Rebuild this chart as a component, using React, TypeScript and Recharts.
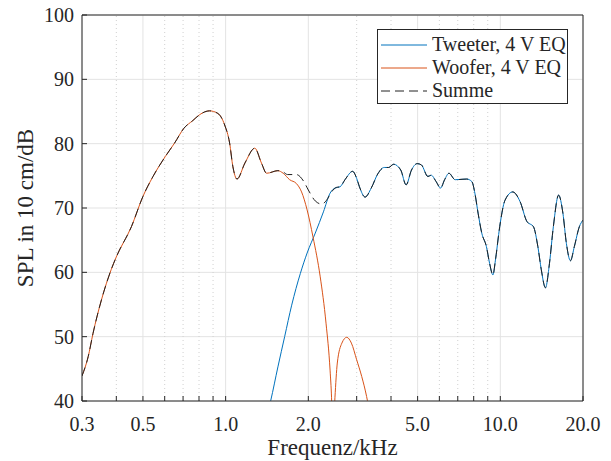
import React from "react";
import {
  CartesianGrid,
  Label,
  Legend,
  Line,
  LineChart,
  ReferenceLine,
  XAxis,
  YAxis,
} from "recharts";

// frequency in kHz, SPL in dB
const wooferFreq = [
  0.3, 0.316, 0.329, 0.353, 0.383, 0.4, 0.454, 0.5, 0.544, 0.603, 0.652, 0.705,
  0.76, 0.804, 0.874, 0.937, 0.992, 1.034, 1.063, 1.1, 1.176, 1.277, 1.35, 1.41,
  1.55, 1.62, 1.71, 1.81, 1.89, 1.98, 2.08, 2.21, 2.32, 2.4, 2.43, 2.455, 2.5,
  2.55, 2.65, 2.76, 2.87, 3.0, 3.13, 3.26, 3.35,
];
const wooferSpl = [
  43.9, 46.9, 50.5, 55.7, 60.4, 62.4, 67.1, 71.8, 74.9, 78.0, 80.1, 82.4,
  83.6, 84.5, 85.1, 84.7, 82.9, 80.1, 76.4, 74.5, 77.0, 79.3, 77.0, 75.4,
  75.8, 75.4, 74.4, 73.8, 72.5, 69.7, 65.5, 59.3, 52.1, 44.8, 40.5, 34.0, 40.5,
  45.9, 49.0, 49.9, 49.0, 46.4, 43.8, 40.7, 38.0,
];

const tweeterFreq = [
  1.42, 1.46, 1.55, 1.64, 1.74, 1.87, 1.98, 2.12, 2.27, 2.4, 2.5, 2.61, 2.72,
  2.9, 3.0, 3.07, 3.22, 3.39, 3.58, 3.78, 3.92, 4.09, 4.34, 4.54, 4.75, 4.98,
  5.16, 5.45, 5.6, 5.84, 6.06, 6.27, 6.5, 6.85, 7.55, 7.88, 8.08, 8.3, 8.56,
  8.9, 9.14, 9.4, 9.6, 9.95, 10.4, 11.1, 11.8, 12.5, 13.2, 13.7, 14.1, 14.6,
  15.1, 15.6, 16.3, 16.9, 17.4, 18.0, 18.6, 19.4, 20.0,
];
const tweeterSpl = [
  38.0, 40.1, 45.3, 50.0, 54.9, 59.8, 63.0, 66.1, 69.4, 72.3, 73.1, 73.3, 74.4,
  75.7, 74.6, 73.3, 71.7, 73.1, 75.3, 76.3, 76.3, 76.8, 75.9, 73.6, 75.9, 76.9,
  76.7, 74.9, 75.1, 74.1, 73.1, 74.4, 75.4, 74.4, 74.5, 74.1, 72.3, 69.2, 66.1,
  64.0, 61.4, 59.6, 61.9, 67.1, 71.2, 72.5, 71.0, 67.9, 67.1, 64.0, 60.4, 57.6,
  61.4, 67.1, 72.0, 69.2, 64.5, 61.8, 64.0, 67.1, 68.1,
];

// Summe in the crossover region (elsewhere it follows woofer / tweeter)
const summeFreq = [1.62, 1.68, 1.81, 1.92, 2.0, 2.12, 2.24, 2.33, 2.43, 2.53];
const summeSpl = [75.6, 75.2, 75.2, 74.2, 72.8, 71.1, 70.6, 71.2, 72.5, 73.2];

const majorFreqTicks = [0.3, 0.5, 1, 2, 5, 10, 20];
const minorFreqTicks = [0.4, 0.6, 0.7, 0.8, 0.9, 3, 4, 6, 7, 8, 9];
const splTicks = [40, 50, 60, 70, 80, 90, 100];

const allFreqTicks = [...majorFreqTicks, ...minorFreqTicks].sort((a, b) => a - b);

const toPoints = (fs: number[], ys: number[]) => fs.map((f, i) => ({ f, spl: ys[i] }));

const wooferData = toPoints(wooferFreq, wooferSpl);
const tweeterData = toPoints(tweeterFreq, tweeterSpl);
const summeData = [
  ...wooferData.filter((p) => p.f < 1.6),
  ...toPoints(summeFreq, summeSpl),
  ...tweeterData.filter((p) => p.f > 2.56),
];

const font = "Liberation Serif";
const ink = "#262626";
const BLUE = "#0072BD";
const ORANGE = "#D95319";
const DASH = "9 5";

const legendItems = [
  { name: "Tweeter, 4 V EQ", color: BLUE, dash: undefined },
  { name: "Woofer, 4 V EQ", color: ORANGE, dash: undefined },
  { name: "Summe", color: "#222", dash: DASH },
];

const renderLegend = () => (
  <div
    style={{
      width: 191,
      height: 75,
      boxSizing: "border-box",
      border: `1px solid ${ink}`,
      background: "#fff",
      paddingTop: 3,
      fontFamily: font,
      fontSize: 20,
      color: ink,
    }}
  >
    {legendItems.map((it) => (
      <div key={it.name} style={{ display: "flex", alignItems: "center", height: 23 }}>
        <svg width={50} height={10} style={{ display: "block" }}>
          <line x1={3} x2={49} y1={5} y2={5} stroke={it.color} strokeWidth={1} strokeDasharray={it.dash} />
        </svg>
        <span style={{ marginLeft: 4, lineHeight: "23px" }}>{it.name}</span>
      </div>
    ))}
  </div>
);

export default function App() {
  return (
    <div style={{ position: "absolute", left: 0, top: 0, background: "#fff", fontFamily: font }}>
      <LineChart width={611} height={461} margin={{ top: 14, right: 27, bottom: 0, left: 0 }}>
        <CartesianGrid vertical={false} stroke="#e3e3e3" xAxisId={0} yAxisId={0} />
        {majorFreqTicks.map((f) => (
          <ReferenceLine key={"M" + f} x={f} stroke="#e3e3e3" />
        ))}
        {minorFreqTicks.map((f) => (
          <ReferenceLine key={"m" + f} x={f} stroke="#d0d0d0" strokeDasharray="1 3" />
        ))}
        <XAxis
          xAxisId={0}
          dataKey="f"
          type="number"
          scale="log"
          domain={[0.3, 20]}
          allowDataOverflow
          ticks={allFreqTicks}
          interval={0}
          tickFormatter={(v: number) => (majorFreqTicks.includes(v) ? v.toFixed(1) : "")}
          height={60}
          stroke={ink}
          tickSize={-5}
          tickMargin={21}
          tick={{ fill: ink, fontSize: 20, fontFamily: font }}
        >
          <Label
            content={() => (
              <text x={332.5} y={455} textAnchor="middle" fontSize={23} fontFamily={font} fill={ink}>
                Frequenz/kHz
              </text>
            )}
          />
        </XAxis>
        <XAxis
          xAxisId="top"
          orientation="top"
          dataKey="f"
          type="number"
          scale="log"
          domain={[0.3, 20]}
          allowDataOverflow
          ticks={allFreqTicks}
          interval={0}
          height={1}
          stroke={ink}
          tickSize={-5}
          tick={false}
        />
        <YAxis
          yAxisId={0}
          type="number"
          domain={[40, 100]}
          allowDataOverflow
          ticks={splTicks}
          interval={0}
          width={82}
          stroke={ink}
          tickSize={-5}
          tickMargin={13}
          tick={{ fill: ink, fontSize: 20, fontFamily: font }}
        >
          <Label
            content={() => (
              <text
                x={25}
                y={208}
                transform="rotate(-90 25 208)"
                textAnchor="middle"
                dominantBaseline="central"
                fontSize={23}
                fontFamily={font}
                fill={ink}
              >
                SPL in 10 cm/dB
              </text>
            )}
          />
        </YAxis>
        <YAxis
          yAxisId="right"
          orientation="right"
          type="number"
          domain={[40, 100]}
          allowDataOverflow
          ticks={splTicks}
          interval={0}
          width={1}
          stroke={ink}
          tickSize={-5}
          tick={false}
        />
        <Legend
          layout="horizontal"
          verticalAlign="middle"
          align="center"
          content={renderLegend}
          wrapperStyle={{ left: 377, top: 29, width: 191 }}
        />
        <Line
          data={tweeterData}
          dataKey="spl"
          name="Tweeter, 4 V EQ"
          type="monotone"
          stroke={BLUE}
          strokeWidth={1}
          dot={false}
          isAnimationActive={false}
        />
        <Line
          data={wooferData}
          dataKey="spl"
          name="Woofer, 4 V EQ"
          type="monotone"
          stroke={ORANGE}
          strokeWidth={1}
          dot={false}
          isAnimationActive={false}
        />
        <Line
          data={summeData}
          dataKey="spl"
          name="Summe"
          type="monotone"
          stroke="#222"
          strokeWidth={1}
          strokeDasharray={DASH}
          dot={false}
          isAnimationActive={false}
        />
      </LineChart>
    </div>
  );
}
